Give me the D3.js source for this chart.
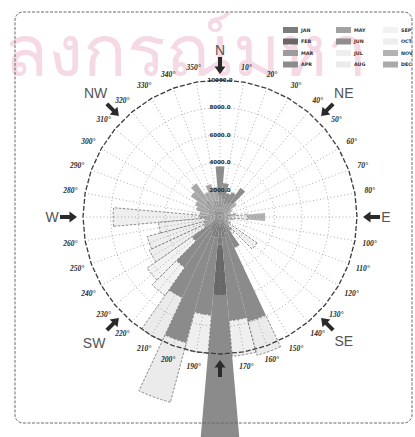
<!DOCTYPE html>
<html>
<head>
<meta charset="utf-8">
<script src="https://cdn.jsdelivr.net/npm/d3@7"></script>
<style>
  body { margin: 0; background: #fff; }
  svg { display: block; }
</style>
</head>
<body>
<svg id="chart" width="415" height="437"></svg>
<script>
// Wind directions (degrees clockwise from north), one 10° sector each
const directions = [0, 10, 20, 30, 40, 50, 60, 70, 80, 90, 100, 110, 120, 130, 140, 150, 160, 170,
                    180, 190, 200, 210, 220, 230, 240, 250, 260, 270, 280, 290, 300, 310, 320, 330, 340, 350];

const months = ["JAN", "FEB", "MAR", "APR", "MAY", "JUN", "JUL", "AUG", "SEP", "OCT", "NOV", "DEC"];

// Monthly totals per direction (same order as `directions`)
const jan = [600, 500, 400, 400, 500, 400, 300, 200, 300, 0, 300, 200, 300, 300, 500, 700, 1200, 1500,
             2000, 1500, 1500, 1200, 1000, 800, 500, 400, 400, 600, 300, 400, 400, 500, 600, 400, 500, 500];
const feb = [0, 0, 0, 0, 0, 0, 0, 0, 0, 0, 0, 0, 0, 0, 0, 0, 0, 0,
             3700, 0, 0, 0, 0, 0, 0, 0, 0, 0, 0, 0, 0, 0, 0, 0, 0, 0];
const mar = [1000, 800, 600, 700, 800, 600, 400, 300, 500, 500, 400, 300, 400, 500, 700, 0, 0, 0,
             0, 0, 0, 0, 0, 0, 0, 0, 0, 0, 500, 500, 600, 800, 900, 600, 800, 700];
const apr = [0, 0, 0, 0, 0, 0, 0, 0, 0, 0, 0, 0, 0, 0, 0, 1800, 6700, 6100,
             12000, 5700, 8000, 5300, 3500, 1700, 0, 0, 0, 0, 0, 0, 0, 0, 0, 0, 0, 0];
const may = [0, 0, 0, 0, 0, 0, 0, 0, 0, 0, 0, 0, 0, 0, 0, 0, 0, 0,
             0, 0, 0, 0, 0, 0, 800, 800, 700, 900, 0, 0, 0, 0, 0, 0, 0, 0];
const jun = [2100, 1200, 800, 900, 1300, 0, 0, 0, 0, 0, 0, 0, 0, 0, 0, 0, 0, 0,
             0, 0, 0, 0, 0, 0, 0, 0, 0, 0, 0, 0, 0, 0, 0, 0, 0, 0];
const jul = [0, 0, 0, 0, 0, 0, 0, 0, 0, 1500, 0, 0, 0, 0, 300, 0, 0, 2600,
             0, 2800, 0, 0, 0, 0, 0, 0, 0, 6300, 0, 0, 0, 0, 0, 0, 0, 0];
const aug = [0, 0, 0, 0, 0, 0, 0, 0, 0, 0, 0, 0, 0, 0, 0, 0, 2550, 0,
             0, 0, 4500, 3500, 0, 0, 0, 0, 0, 0, 0, 0, 0, 0, 0, 0, 0, 0];
const sep = [0, 0, 0, 0, 0, 0, 0, 0, 0, 0, 0, 0, 0, 2500, 0, 0, 0, 0,
             0, 0, 0, 0, 2500, 4000, 0, 0, 0, 0, 0, 0, 0, 0, 0, 0, 0, 0];
const oct = [0, 0, 0, 0, 0, 0, 0, 0, 0, 0, 0, 0, 0, 0, 0, 0, 0, 0,
             0, 0, 0, 0, 0, 0, 4400, 4300, 3400, 0, 0, 0, 0, 0, 0, 0, 0, 0];
const nov = [0, 0, 0, 0, 0, 500, 300, 300, 400, 1300, 300, 200, 200, 0, 0, 0, 0, 0,
             0, 0, 0, 0, 0, 0, 0, 0, 0, 0, 0, 0, 0, 0, 0, 0, 0, 0];
const dec = [0, 0, 0, 0, 0, 0, 0, 0, 0, 0, 0, 0, 0, 0, 0, 0, 0, 0,
             0, 0, 0, 0, 0, 0, 0, 0, 0, 0, 700, 900, 1000, 1300, 1500, 1000, 1200, 1000];

const series = [jan, feb, mar, apr, may, jun, jul, aug, sep, oct, nov, dec];

// Ring values and their printed labels
const ringValues = [2000, 4000, 6000, 8000, 10000];
const ringLabels = ["2000.0", "4000.0", "6000.0", "8000.0", "10000.0"];

// Compass points drawn with inward arrows
const compassNames  = ["N", "NE", "E", "SE", "S", "SW", "W", "NW"];
const compassAngles = [0, 45, 90, 135, 180, 225, 270, 315];
const compassShown  = ["N", "NE", "E", "SE", "SW", "W", "NW"];

// Styling
const monthColors = ["#7c7c7c", "#686868", "#9c9c9c", "#8b8b8b", "#a2a2a2", "#8e8e8e",
                     "#efefef", "#ebebeb", "#f2f2f2", "#eeeeee", "#b3b3b3", "#aaaaaa"];
const lightMonths = ["JUL", "AUG", "SEP", "OCT"];

const svg = d3.select("#chart");
const cx = 220, cy = 217, R = 137;
const rad = d => d * Math.PI / 180;

// Faint university watermark behind the figure
svg.append("text")
  .attr("x", 4).attr("y", 76)
  .attr("font-family", "'Noto Sans', 'DejaVu Sans', sans-serif")
  .attr("font-size", 72)
  .attr("fill", "#f5d9e4")
  .text("ลงกรณ์มหา");

const g = svg.append("g").attr("transform", `translate(${cx},${cy})`);
const r = d3.scaleLinear().domain([0, 10000]).range([0, R]);

// Stacked sectors
const rows = directions.map((dir, i) => {
  const o = { dir };
  months.forEach((m, k) => { o[m] = series[k][i]; });
  return o;
});
const layers = d3.stack().keys(months)(rows);
const color = d3.scaleOrdinal().domain(months).range(monthColors);

const arc = d3.arc()
  .innerRadius(d => r(d[0]))
  .outerRadius(d => r(d[1]))
  .startAngle(d => rad(d.data.dir - 5))
  .endAngle(d => rad(d.data.dir + 5));

const barG = g.append("g");
layers.forEach(layer => {
  const light = lightMonths.includes(layer.key);
  barG.selectAll(null)
    .data(layer.filter(d => d[1] > d[0]))
    .join("path")
    .attr("d", arc)
    .attr("fill", color(layer.key))
    .attr("stroke", light ? "#6e6e6e" : "none")
    .attr("stroke-width", light ? 0.8 : 0)
    .attr("stroke-dasharray", light ? "2.5,1.5" : null);
});

// Grid: dotted spokes and polygon rings
const gridG = g.append("g");
gridG.selectAll("line.spoke")
  .data(directions)
  .join("line")
  .attr("class", "spoke")
  .attr("x1", 0).attr("y1", 0)
  .attr("x2", d => r(10000) * Math.sin(rad(d)))
  .attr("y2", d => -r(10000) * Math.cos(rad(d)))
  .attr("stroke", "#8a8a8a")
  .attr("stroke-width", 0.7)
  .attr("stroke-dasharray", "1,2.5");

const ringLine = v => d3.lineRadial()
  .angle(d => rad(d))
  .radius(() => r(v))
  .curve(d3.curveLinearClosed)(directions);

gridG.selectAll("path.ring")
  .data(ringValues.slice(0, -1))
  .join("path")
  .attr("class", "ring")
  .attr("d", v => ringLine(v))
  .attr("fill", "none")
  .attr("stroke", "#8a8a8a")
  .attr("stroke-width", 0.7)
  .attr("stroke-dasharray", "1,2.5");

gridG.append("path")
  .attr("d", ringLine(ringValues[ringValues.length - 1]))
  .attr("fill", "none")
  .attr("stroke", "#3c3c3c")
  .attr("stroke-width", 1.3)
  .attr("stroke-dasharray", "5,2");

// Ring value labels along the north axis
gridG.selectAll("text.ringlab")
  .data(ringValues)
  .join("text")
  .attr("class", "ringlab")
  .attr("x", 0)
  .attr("y", d => -r(d))
  .attr("text-anchor", "middle")
  .attr("dominant-baseline", "central")
  .attr("font-family", "'DejaVu Sans', sans-serif")
  .attr("font-size", 5.5)
  .attr("font-weight", "bold")
  .attr("fill", "#2a2a2a")
  .text((d, i) => ringLabels[i]);

// Degree labels round the rim
const degDirs = directions.filter(d => d % 90 !== 0);
g.selectAll("text.deg")
  .data(degDirs)
  .join("text")
  .attr("class", "deg")
  .attr("x", d => 152 * Math.sin(rad(d)))
  .attr("y", d => -152 * Math.cos(rad(d)))
  .attr("text-anchor", "middle")
  .attr("dominant-baseline", "central")
  .attr("font-family", "'Liberation Serif', serif")
  .attr("font-style", "italic")
  .attr("font-weight", "bold")
  .attr("font-size", 7.5)
  .attr("fill", "#2a2a2a")
  .text(d => d + "°");

// Inward-pointing arrows at the eight compass points
const arrowShape = "M0,0 L-5.5,7.5 L-2,7.5 L-2,17 L2,17 L2,7.5 L5.5,7.5 Z";
g.selectAll("path.arrow")
  .data(compassAngles)
  .join("path")
  .attr("class", "arrow")
  .attr("d", arrowShape)
  .attr("transform", a => `translate(${143 * Math.sin(rad(a))},${-143 * Math.cos(rad(a))}) rotate(${a + 180})`)
  .attr("fill", "#2a2a2a");

const labelRadius = { N: 167, E: 166, W: 168, NE: 175, NW: 176, SE: 175, SW: 178 };
g.selectAll("text.compass")
  .data(compassShown)
  .join("text")
  .attr("class", "compass")
  .attr("x", n => labelRadius[n] * Math.sin(rad(compassAngles[compassNames.indexOf(n)])))
  .attr("y", n => -labelRadius[n] * Math.cos(rad(compassAngles[compassNames.indexOf(n)])))
  .attr("text-anchor", "middle")
  .attr("dominant-baseline", "central")
  .attr("font-family", "'Liberation Sans', sans-serif")
  .attr("font-size", 14)
  .attr("fill", "#555")
  .text(n => n);

// Legend: three columns of four months
const legend = svg.append("g");
const colX = [283, 336, 383];
const rowY = [30, 41.5, 53, 64.5];
months.forEach((m, k) => {
  const col = Math.floor(k / 4), row = k % 4;
  legend.append("rect")
    .attr("x", colX[col]).attr("y", rowY[row] - 3)
    .attr("width", 15).attr("height", 6)
    .attr("fill", color(m));
  legend.append("text")
    .attr("x", colX[col] + 18).attr("y", rowY[row])
    .attr("dominant-baseline", "central")
    .attr("font-family", "'DejaVu Sans', sans-serif")
    .attr("font-size", 4.8)
    .attr("font-weight", "bold")
    .attr("fill", "#333")
    .text(m);
});

// Dashed rounded frame
svg.append("rect")
  .attr("x", 15).attr("y", 12)
  .attr("width", 397).attr("height", 411)
  .attr("rx", 8)
  .attr("fill", "none")
  .attr("stroke", "#6a6a6a")
  .attr("stroke-width", 1)
  .attr("stroke-dasharray", "3,1.5");
</script>
</body>
</html>
